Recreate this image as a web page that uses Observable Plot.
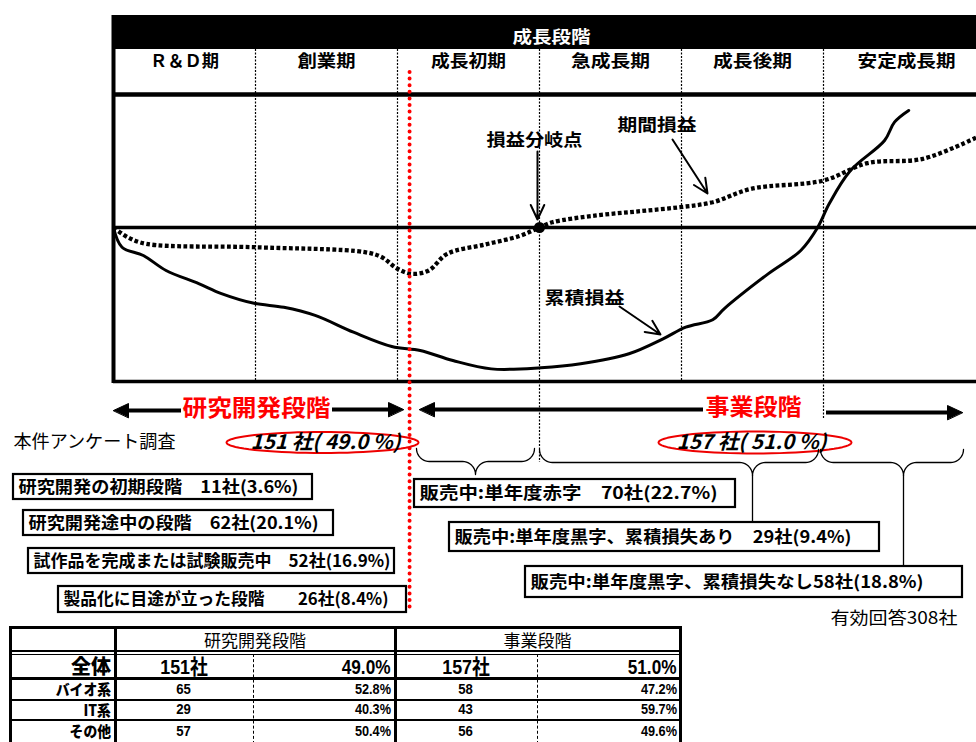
<!DOCTYPE html>
<html lang="ja"><head><meta charset="utf-8">
<script src="https://cdn.jsdelivr.net/npm/d3@7"></script>
<script src="https://cdn.jsdelivr.net/npm/@observablehq/plot@0.6"></script>
<style>
html,body{margin:0;padding:0;background:#fff;}
#wrap{position:relative;width:976px;height:742px;overflow:hidden;font-family:"Noto Sans CJK JP","Noto Sans",sans-serif;}
#wrap svg{position:absolute;left:0;top:0;}
.ln{position:absolute;background:#000;}
.dash{position:absolute;border-left:1.6px dashed #000;width:0;}
.cell{position:absolute;display:flex;align-items:center;color:#000;line-height:1;white-space:nowrap;}
.cell span{display:inline-block;line-height:1;}
.num{font-family:"Liberation Sans","Noto Sans CJK JP",sans-serif;}
</style></head><body><div id="wrap"></div>
<script>
// ---------------- data ----------------
const headerTitle = "成長段階";
const stages = ["Ｒ＆Ｄ期","創業期","成長初期","急成長期","成長後期","安定成長期"];
const stageCenters = [0.5, 1.5, 2.5, 3.5, 4.5, 5.585];
const stageBounds = [1, 2, 3, 4, 5];
const rdBoundary = 2.085;              // 研究開発段階 / 事業段階 boundary (stage units)

// 累積損益 (cumulative profit) — stage position, relative value
const cumStage = [0, 0.06, 0.21, 0.37, 0.60, 0.76, 0.99, 1.20, 1.42, 1.69, 1.96, 2.16, 2.39, 2.66, 3.01, 3.29, 3.63, 3.87, 4.03, 4.22, 4.30, 4.61, 4.84, 4.96, 5.04, 5.19, 5.43, 5.50, 5.60];
const cumValue = [0, -12.8, -18.2, -27.9, -36.4, -42.9, -49.2, -51.8, -57.1, -68.0, -77.3, -79.9, -86.4, -91.8, -91.1, -88.5, -82.0, -72.3, -64.7, -59.9, -52.8, -30.1, -14.9, 0.2, 15.4, 37.0, 56.5, 68.4, 76.0];
// 期間損益 (period profit)
const perStage = [0, 0.10, 0.23, 0.99, 1.77, 1.89, 2.00, 2.10, 2.22, 2.35, 2.62, 2.86, 3.00, 3.09, 3.40, 3.71, 3.99, 4.22, 4.49, 5.00, 5.31, 5.70, 6.08];
const perValue = [0, -6.3, -10.6, -12.8, -16.0, -19.3, -26.8, -30.1, -27.9, -17.1, -11.0, -5.5, 0, 3.4, 7.8, 10.6, 13.2, 16.4, 25.1, 30.5, 41.8, 44.6, 58.6];
const breakEven = [{stage: 3.0, value: 0}];

const noteLabels = ["損益分岐点", "期間損益", "累積損益"];
const phaseLabels = ["研究開発段階", "事業段階"];
const surveyLabel = "本件アンケート調査";
const phaseCounts = ["151 社( 49.0 %)", "157 社( 51.0 %)"];
const validLabel = "有効回答308社";
const rdBoxLabels = ["研究開発の初期段階　11社(3.6%)", "研究開発途中の段階　62社(20.1%)", "試作品を完成または試験販売中　52社(16.9%)", "製品化に目途が立った段階　　26社(8.4%)"];
const bizBoxLabels = ["販売中:単年度赤字　70社(22.7%)", "販売中:単年度黒字、累積損失あり　29社(9.4%)", "販売中:単年度黒字、累積損失なし58社(18.8%)"];

// table
const tableGroups = ["研究開発段階", "事業段階"];
const tableRows = ["全体", "バイオ系", "IT系", "その他"];
const rdCounts = ["151社", "65", "29", "57"];
const rdPct = ["49.0%", "52.8%", "40.3%", "50.4%"];
const bizCounts = ["157社", "58", "43", "56"];
const bizPct = ["51.0%", "47.2%", "59.7%", "49.6%"];

// ---------------- layout (page px) ----------------
const W = 976, H = 625;
const X0 = 113, SX = 142;   // stage 0 at px 113, 142 px per stage
const Y0 = 227, SY = 1.54;  // profit 0 at px 227
const sx = p => (p - X0) / SX;
const sy = p => (Y0 - p) / SY;
const xMax = sx(W), frameTop = sy(94), frameBottom = sy(381);
const FONT = '"Noto Sans CJK JP","Noto Sans",sans-serif';

const notePos = [[534,140,96],[656.5,125,79],[584,298,80]];
const noteArrows = [[537,151,537,219],[672,139,707,193],[619,306,660,334]];
const bigArrows = [[181,113,410],[332,403,409],[703,419,409],[826,962,412]];
const phasePos = [[256,408,148],[753,407,96]];
const ellipses = [[322,442,96,10.5],[754.5,442,96.5,11]];
const countPos = [[325,442,150],[751,442,150]];
const braces = [[416,534,475,448],[539,818,752,449],[820,963,903,449]];
const connectors = [[752,475,522],[903,475,566]];
const boxes = [[13,312,474,499,280],[23,333,510,535,290],[28,394,548,573,357],[58,406,586,612,325],
               [414,735,479,507,298],[449,879,522,551,397],[525,962,566,597,393]];
const stageWidths = [69,58,75,79,79,98];

// geometry helpers
function arcPts(id, cx, cy, r, a0, a1, out) {
  for (let k = 0; k <= 10; k++) { const a = a0 + (a1 - a0) * k / 10; out.push({id, x: sx(cx + r*Math.cos(a)), y: sy(cy + r*Math.sin(a))}); }
}
const bracePts = [];
braces.forEach(([xa, xb, tip, top], id) => {
  const r = 13;
  arcPts(id, xa + r, top, r, Math.PI, Math.PI/2, bracePts);
  arcPts(id, tip - r, top + 2*r, r, -Math.PI/2, 0, bracePts);
  arcPts(id, tip + r, top + 2*r, r, Math.PI, 1.5*Math.PI, bracePts);
  arcPts(id, xb - r, top, r, Math.PI/2, 0, bracePts);
});
const ellPts = [];
ellipses.forEach(([cx, cy, rx, ry], id) => {
  for (let k = 0; k < 72; k++) { const a = 2*Math.PI*k/72; ellPts.push({id, x: sx(cx + rx*Math.cos(a)), y: sy(cy + ry*Math.sin(a))}); }
});
const headPts = [];
bigArrows.forEach(([x1, x2, y], id) => {
  const d = Math.sign(x2 - x1);
  headPts.push({id, x: sx(x2), y: sy(y)}, {id, x: sx(x2 - d*15), y: sy(y - 7)}, {id, x: sx(x2 - d*15), y: sy(y + 7)});
});

const cum = cumStage.map((s, i) => ({stage: s, value: cumValue[i]}));
const per = perStage.map((s, i) => ({stage: s, value: perValue[i]}));
const allBoxLabels = rdBoxLabels.concat(bizBoxLabels);

const chart = Plot.plot({
  width: W, height: H, margin: 0,
  x: {domain: [sx(0), xMax], axis: null},
  y: {domain: [sy(H), sy(0)], axis: null},
  style: {fontFamily: FONT, background: "white", overflow: "visible", color: "black"},
  marks: [
    // header band + stage labels
    Plot.rect([0], {x1: 0, x2: xMax, y1: sy(49), y2: sy(15), fill: "black"}),
    Plot.text([headerTitle], {text: d => d, x: sx(551), y: sy(37), fill: "white", fontWeight: "bold", fontSize: 17, ariaDescription: "t-head"}),
    Plot.text(stages, {text: d => d, x: (d, i) => stageCenters[i], y: sy(61), fontWeight: "bold", fontSize: 17, ariaDescription: "t-stage"}),
    // stage dividers
    Plot.ruleX(stageBounds, {y1: sy(49), y2: frameBottom, stroke: "black", strokeWidth: 1.2, strokeDasharray: "2,1.5"}),
    Plot.ruleX([3], {y1: frameBottom, y2: sy(462), stroke: "black", strokeWidth: 1.2, strokeDasharray: "2,1.5"}),
    Plot.ruleX([5], {y1: frameBottom, y2: sy(419), stroke: "black", strokeWidth: 1.2, strokeDasharray: "2,1.5"}),
    // frame
    Plot.ruleX([0], {y1: sy(15), y2: sy(383), stroke: "black", strokeWidth: 4}),
    Plot.ruleY([frameTop], {x1: 0, x2: xMax, stroke: "black", strokeWidth: 4.5}),
    Plot.ruleY([0], {x1: 0, x2: xMax, stroke: "black", strokeWidth: 3.5}),
    Plot.ruleY([frameBottom], {x1: 0, x2: xMax, stroke: "black", strokeWidth: 3.5}),
    // curves
    Plot.line(per, {x: "stage", y: "value", stroke: "black", strokeWidth: 4.3, strokeDasharray: "3.8,2.4", strokeLinecap: "butt", strokeLinejoin: "miter", curve: "catmull-rom"}),
    Plot.line(cum, {x: "stage", y: "value", stroke: "black", strokeWidth: 3, curve: "catmull-rom"}),
    Plot.dot(breakEven, {x: "stage", y: "value", r: 5.5, fill: "black"}),
    // notes
    Plot.arrow(noteArrows, {x1: d => sx(d[0]), y1: d => sy(d[1]), x2: d => sx(d[2]), y2: d => sy(d[3]), stroke: "black", strokeWidth: 2, headLength: 12, headAngle: 50}),
    Plot.text(noteLabels, {text: d => d, x: (d, i) => sx(notePos[i][0]), y: (d, i) => sy(notePos[i][1]), fontWeight: "bold", fontSize: 17, fill: "black", ariaDescription: "t-note"}),
    // red boundary
    Plot.ruleX([rdBoundary], {y1: sy(72), y2: sy(612), stroke: "#ff0000", strokeWidth: 4, strokeDasharray: "0,6.6", strokeLinecap: "round"}),
    // phase arrows
    Plot.ruleY(bigArrows, {y: d => sy(d[2]), x1: d => sx(d[0]), x2: d => sx(d[1] - Math.sign(d[1] - d[0]) * 12), stroke: "black", strokeWidth: 4}),
    Plot.line(headPts, {x: "x", y: "y", z: "id", fill: "black", stroke: "black", strokeWidth: 1, curve: "linear-closed"}),
    Plot.text(phaseLabels, {text: d => d, x: (d, i) => sx(phasePos[i][0]), y: (d, i) => sy(phasePos[i][1]), fill: "#ff0000", fontWeight: "bold", fontSize: 23, ariaDescription: "t-phase"}),
    // survey counts
    Plot.text([surveyLabel], {text: d => d, x: sx(13), y: sy(442), textAnchor: "start", fontSize: 18, fill: "black", ariaDescription: "t-survey"}),
    Plot.line(ellPts, {x: "x", y: "y", z: "id", stroke: "#ee0000", strokeWidth: 2, curve: "linear-closed"}),
    Plot.text(phaseCounts, {text: d => d, x: (d, i) => sx(countPos[i][0]), y: (d, i) => sy(countPos[i][1]), fontStyle: "italic", fontWeight: "bold", fontSize: 20, fill: "black", ariaDescription: "t-count"}),
    // braces + connectors
    Plot.line(bracePts, {x: "x", y: "y", z: "id", stroke: "black", strokeWidth: 1.3, curve: "linear"}),
    Plot.ruleX(connectors, {x: d => sx(d[0]), y1: d => sy(d[1]), y2: d => sy(d[2]), stroke: "black", strokeWidth: 1.3}),
    // boxes
    Plot.rect(boxes, {x1: d => sx(d[0]), x2: d => sx(d[1]), y1: d => sy(d[3]), y2: d => sy(d[2]), fill: "white", stroke: "black", strokeWidth: 2.2}),
    Plot.text(allBoxLabels, {text: d => d, x: (d, i) => sx(boxes[i][0] + 5), y: (d, i) => sy((boxes[i][2] + boxes[i][3]) / 2 + 0.5), textAnchor: "start", fontWeight: "bold", fontSize: 17, fill: "black", ariaDescription: "t-box"}),
    Plot.text([validLabel], {text: d => d, x: sx(893.5), y: sy(618), fontSize: 17, fill: "black", ariaDescription: "t-valid"})
  ]
});

// fit text widths to the reference
const widths = {
  "t-head": [78], "t-stage": stageWidths, "t-note": notePos.map(d => d[2]),
  "t-phase": phasePos.map(d => d[2]), "t-survey": [162], "t-count": countPos.map(d => d[2]),
  "t-box": boxes.map(d => d[4]), "t-valid": [127]
};
Object.entries(widths).forEach(([k, arr]) => {
  chart.querySelectorAll(`g[aria-description="${k}"] text`).forEach((t, i) => {
    if (arr[i]) { t.setAttribute("textLength", arr[i]); t.setAttribute("lengthAdjust", "spacingAndGlyphs"); }
  });
});
const wrap = document.getElementById("wrap");
wrap.appendChild(chart);

// ---------------- table ----------------
const cols = [10, 115, 253, 395, 537, 680];
const rows = [627, 652, 678, 699, 719, 742];
function ln(l, t, w, h) { const e = document.createElement("div"); e.className = "ln"; Object.assign(e.style, {left: l + "px", top: t + "px", width: w + "px", height: h + "px"}); wrap.appendChild(e); }
function dash(l, t, h) { const e = document.createElement("div"); e.className = "dash"; Object.assign(e.style, {left: l + "px", top: t + "px", height: h + "px"}); wrap.appendChild(e); }
function cell(text, x1, x2, y1, y2, align, size, weight, sc, pad, cls) {
  const e = document.createElement("div"); e.className = "cell" + (cls ? " " + cls : "");
  Object.assign(e.style, {left: x1 + "px", top: y1 + "px", width: (x2 - x1) + "px", height: (y2 - y1) + "px",
    justifyContent: align === "right" ? "flex-end" : "center", fontSize: size + "px", fontWeight: weight,
    paddingRight: (pad || 0) + "px", boxSizing: "border-box"});
  const s = document.createElement("span"); s.textContent = text;
  s.style.transform = `scaleX(${sc})`; s.style.transformOrigin = align === "right" ? "right center" : "center center";
  e.appendChild(s); wrap.appendChild(e);
}
cell(tableGroups[0], cols[1], cols[3], rows[0] + 1, rows[1] - 1, "center", 17, 400, 1);
cell(tableGroups[1], cols[3], cols[5], rows[0] + 1, rows[1] - 1, "center", 17, 400, 1);
tableRows.forEach((r, i) => {
  const y1 = rows[i + 1] + (i === 0 ? 3 : 1), y2 = rows[i + 2] - 1;
  const big = i === 0;
  cell(r, cols[0], cols[1], y1, y2, "right", big ? 20 : 15, 900, big ? 1.0 : 0.92, 4);
  cell(rdCounts[i], cols[1], cols[2], y1, y2, "center", big ? 21 : 15.5, 700, 0.85, 0, "num");
  cell(rdPct[i], cols[2], cols[3], y1, y2, "right", big ? 21 : 15.5, 700, 0.82, 4, "num");
  cell(bizCounts[i], cols[3], cols[4], y1, y2, "center", big ? 21 : 15.5, 700, 0.85, 0, "num");
  cell(bizPct[i], cols[4], cols[5], y1, y2, "right", big ? 21 : 15.5, 700, 0.82, 3, "num");
});
ln(9, 626, 673, 3);            // top
ln(9, 626, 3, 120);            // left
ln(679, 626, 3, 120);          // right
ln(114, 626, 2.5, 120);
ln(394, 626, 2.5, 120);
dash(253, 654, 90); dash(537, 654, 90);
ln(9, 650, 673, 1.5); ln(9, 653.5, 673, 1.5);
ln(9, 676.5, 673, 3);
ln(9, 698.5, 673, 2);
ln(9, 718.5, 673, 2);
</script></body></html>
